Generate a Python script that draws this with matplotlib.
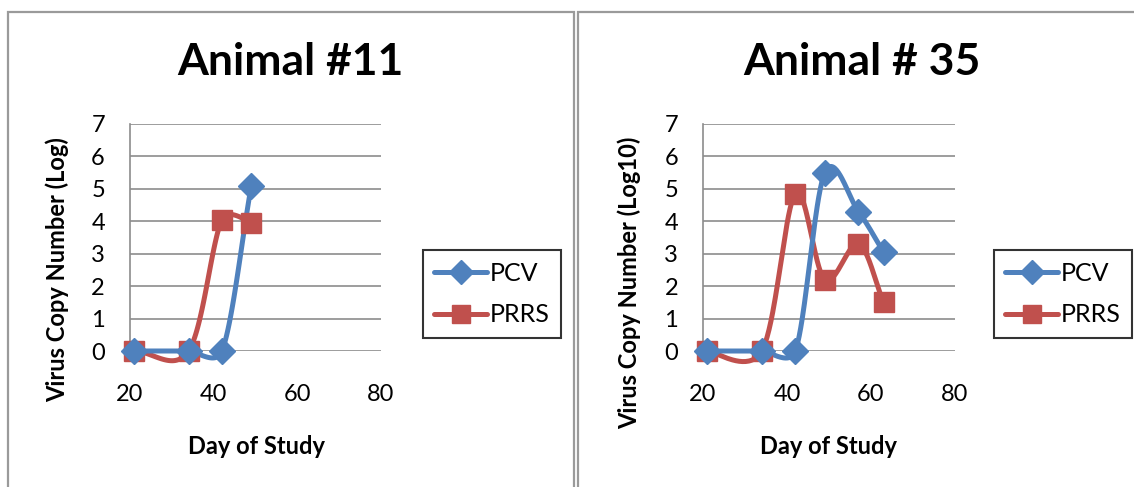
import numpy as np
import matplotlib
matplotlib.use("Agg")
from matplotlib import pyplot as plt
from matplotlib.patches import Rectangle
from matplotlib.lines import Line2D

# data
days_11 = [21, 34, 42, 49]
pcv_11 = [0, 0, 0, 5.1]
prrs_11 = [0, 0, 4.05, 3.95]

days_35 = [21, 34, 42, 49, 57, 63]
pcv_35 = [0, 0, 0, 5.5, 4.3, 3.05]
prrs_35 = [0, 0, 4.85, 2.2, 3.3, 1.5]

titles = ["Animal #11", "Animal # 35"]
ylabels = ["Virus Copy Number (Log)", "Virus Copy Number (Log10)"]

BLUE = "#4F81BD"
RED = "#C0504D"
GRID = "#8C8C8C"

plt.rcParams['font.family'] = ['Lato', 'DejaVu Sans']

W, H = 1134, 487
fig = plt.figure(figsize=(W / 100, H / 100), dpi=100)


def smooth(xs, ys, sx, sy, n=40):
    # excel style smoothed line, worked out in screen pixels
    p = np.column_stack([np.array(xs, float) * sx, np.array(ys, float) * sy])
    d = lambda a, b: np.hypot(*(a - b))
    out = []
    for i in range(len(p) - 1):
        p1, p2 = p[i], p[i + 1]
        p0 = p[i - 1] if i > 0 else p1
        p3 = p[i + 2] if i + 2 < len(p) else p2
        d12, d02, d13 = d(p1, p2), d(p0, p2), d(p1, p3)
        if d02 / 6 < d12 / 2 and d13 / 6 < d12 / 2:
            f1 = 1 / 6 if i > 0 else 1 / 3
            f2 = 1 / 6 if i + 2 < len(p) else 1 / 3
            b1 = p1 + (p2 - p0) * f1
            b2 = p2 - (p3 - p1) * f2
        elif d02 / 6 >= d12 / 2 and d13 / 6 >= d12 / 2:
            b1 = p1 + (p2 - p0) * d12 / 2 / d02
            b2 = p2 - (p3 - p1) * d12 / 2 / d13
        elif d02 / 6 >= d12 / 2:
            b1 = p1 + (p2 - p0) * d12 / 2 / d02
            b2 = p2 - (p3 - p1) * d12 / 2 / d02
        else:
            b1 = p1 + (p2 - p0) * d12 / 2 / d13
            b2 = p2 - (p3 - p1) * d12 / 2 / d13
        t = np.linspace(0, 1, n, endpoint=False)[:, None]
        seg = ((1 - t) ** 3 * p1 + 3 * (1 - t) ** 2 * t * b1
               + 3 * (1 - t) * t ** 2 * b2 + t ** 3 * p2)
        out.extend(seg)
    out.append(p[-1])
    out = np.array(out)
    return out[:, 0] / sx, out[:, 1] / sy


def panel(rect, days, pcv, prrs, title, ylabel, box, title_xy, xl_xy, yl_xy, leg_xy):
    # panel border
    fig.add_artist(Rectangle((box[0] / W, 1 - box[3] / H), (box[2] - box[0]) / W,
                             (box[3] - box[1]) / H, transform=fig.transFigure,
                             fill=False, edgecolor="#9A9A9A", linewidth=1.6))
    ax = fig.add_axes(rect)
    sx = rect[2] * W / 60.0
    sy = rect[3] * H / 7.0
    series = [(pcv, BLUE, "D", 13, "PCV", 3), (prrs, RED, "s", 14, "PRRS", 2)]
    handles = []
    for vals, col, mk, ms, name, z in series:
        x, y = smooth(days, vals, sx, sy)
        ax.plot(x, y, color=col, lw=3.6, solid_capstyle="round", clip_on=False, zorder=z)
        ax.plot(days, vals, ls="none", marker=mk, markersize=ms, color=col,
                clip_on=False, zorder=z + 3)
        handles.append(Line2D([], [], color=col, lw=3.6, marker=mk, markersize=ms - 1,
                              solid_capstyle="round", label=name))
    ax.set_xlim(20, 80)
    ax.set_ylim(0, 7)
    ax.set_xticks([20, 40, 60, 80])
    ax.set_yticks(range(8))
    ax.grid(axis="y", color=GRID, linewidth=1.2)
    ax.set_axisbelow(True)
    for s in ["top", "right", "bottom"]:
        ax.spines[s].set_visible(False)
    ax.spines["left"].set_color(GRID)
    ax.spines["left"].set_linewidth(1.2)
    ax.tick_params(axis="both", length=0, labelsize=17)
    ax.tick_params(axis="x", pad=24)
    ax.tick_params(axis="y", pad=18)
    fig.text(title_xy[0] / W, 1 - title_xy[1] / H, title, fontsize=32,
             fontweight="bold", ha="center", va="center")
    fig.text(xl_xy[0] / W, 1 - xl_xy[1] / H, "Day of Study", fontsize=17,
             fontweight="bold", ha="center", va="center")
    fig.text(yl_xy[0] / W, 1 - yl_xy[1] / H, ylabel, fontsize=17,
             fontweight="bold", ha="center", va="center", rotation=90)
    leg = ax.legend(handles=handles, loc="center",
                    bbox_to_anchor=(leg_xy[0] / W, 1 - leg_xy[1] / H),
                    bbox_transform=fig.transFigure, fontsize=18, frameon=True,
                    fancybox=False, edgecolor="black", handlelength=2.1,
                    labelspacing=0.75, handletextpad=0.12, borderpad=0.45,
                    borderaxespad=0)
    leg.get_frame().set_linewidth(1.5)
    return ax


panel([130 / W, 1 - 351 / H, 251 / W, 227 / H], days_11, pcv_11, prrs_11,
      titles[0], ylabels[0], (8, 12, 574, 500), (290, 62), (256, 447), (57, 270), (492, 294))
panel([703 / W, 1 - 351 / H, 252 / W, 227 / H], days_35, pcv_35, prrs_35,
      titles[1], ylabels[1], (578, 12, 1140, 500), (862, 62), (828, 447), (629, 283), (1063, 294))

fig.savefig("out.png", dpi=100)
